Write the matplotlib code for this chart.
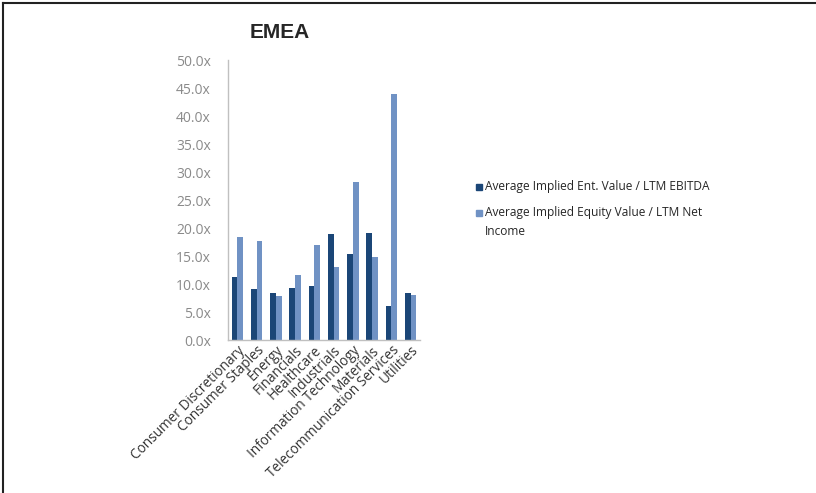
import matplotlib
matplotlib.use("Agg")
import matplotlib.pyplot as plt
from matplotlib.lines import Line2D
from matplotlib.patches import Rectangle
import numpy as np

plt.rcParams['font.family'] = ['Open Sans', 'DejaVu Sans']

sectors = ["Consumer Discretionary", "Consumer Staples", "Energy", "Financials",
           "Healthcare", "Industrials", "Information Technology", "Materials",
           "Telecommunication Services", "Utilities"]
ev_ebitda = [11.3, 9.2, 8.5, 9.4, 9.6, 19.0, 15.3, 19.2, 6.1, 8.5]
pe_net_income = [18.5, 17.7, 7.9, 11.6, 17.0, 13.1, 28.2, 14.8, 44.0, 8.0]
y_ticks = [0, 5, 10, 15, 20, 25, 30, 35, 40, 45, 50]
series_names = ["Average Implied Ent. Value / LTM EBITDA",
                "Average Implied Equity Value / LTM Net\nIncome"]

dark = "#1b4677"
light = "#7092c4"
grey_text = "#8a8a8a"

W, H = 816, 493
fig = plt.figure(figsize=(W / 100, H / 100), dpi=100)
ax = fig.add_axes([0.279, 0.310, 0.236, 0.568])

x = np.arange(len(sectors))
w = 0.3
ax.bar(x - w / 2, ev_ebitda, width=w, color=dark)
ax.bar(x + w / 2, pe_net_income, width=w, color=light)

ax.set_xlim(-0.5, len(sectors) - 0.5)
ax.set_ylim(0, 50)
ax.set_yticks(y_ticks)
ax.set_yticklabels([f"{v:.1f}x" for v in y_ticks], color=grey_text, fontsize=10)
ax.tick_params(axis="y", length=0, pad=12)
ax.tick_params(axis="x", length=0, pad=2)
ax.set_xticks(x)
ax.set_xticklabels(sectors, rotation=45, ha="right", rotation_mode="anchor",
                   fontsize=9.8, color="#333333")
for side in ["top", "right"]:
    ax.spines[side].set_visible(False)
for side in ["left", "bottom"]:
    ax.spines[side].set_color("#c0c0c0")
    ax.spines[side].set_linewidth(1.0)

fig.text(0.343, 0.935, "EMEA", ha="center", va="center", fontsize=15,
         fontweight="bold", color="#262626", family=["Liberation Sans", "DejaVu Sans"])

# legend: square swatch aligned with the first line of each label
legend_rows = [(187, dark, series_names[0]), (213, light, series_names[1])]
sw = 6
for y_px, col, label in legend_rows:
    fig.add_artist(Rectangle(((476) / W, 1 - (y_px + sw / 2) / H), sw / W, sw / H,
                             transform=fig.transFigure, color=col))
    fig.text(485 / W, 1 - (y_px - 7) / H, label, ha="left", va="top",
             fontsize=8.6, color="#262626", linespacing=1.55)

# frame lines along the top and left edges
fig.add_artist(Line2D([0.004, 0.004], [0, 0.994], transform=fig.transFigure,
                      color="#222222", linewidth=1.5))
fig.add_artist(Line2D([0.004, 1.0], [0.994, 0.994], transform=fig.transFigure,
                      color="#222222", linewidth=1.5))

fig.savefig("out.png", dpi=100)
